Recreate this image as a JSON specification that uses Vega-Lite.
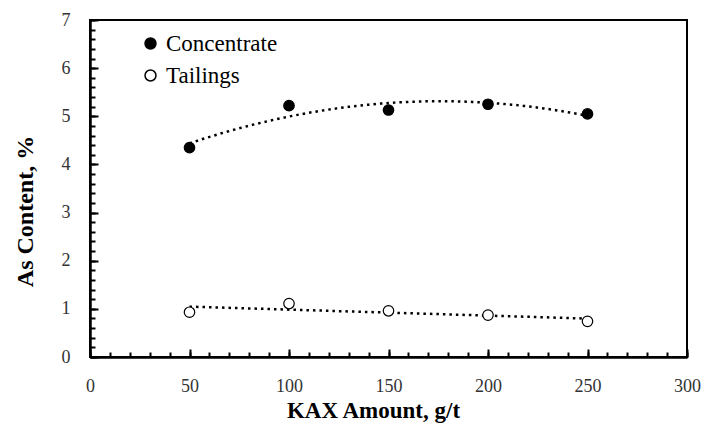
{
  "$schema": "https://vega.github.io/schema/vega-lite/v6.json",
  "width": 597,
  "height": 337,
  "autosize": {"type": "none"},
  "padding": {"left": 90, "top": 20, "right": 15, "bottom": 71},
  "background": "white",
  "config": {
    "view": {"stroke": "black", "strokeWidth": 2, "fill": "transparent"},
    "font": "Liberation Serif",
    "axis": {"labelFont": "Liberation Serif", "titleFont": "Liberation Serif"}
  },
  "data": {
    "values": [
      {"kax": 50, "value": 4.35, "series": "Concentrate"},
      {"kax": 100, "value": 5.22, "series": "Concentrate"},
      {"kax": 150, "value": 5.13, "series": "Concentrate"},
      {"kax": 200, "value": 5.25, "series": "Concentrate"},
      {"kax": 250, "value": 5.05, "series": "Concentrate"},
      {"kax": 50, "value": 0.93, "series": "Tailings"},
      {"kax": 100, "value": 1.11, "series": "Tailings"},
      {"kax": 150, "value": 0.96, "series": "Tailings"},
      {"kax": 200, "value": 0.87, "series": "Tailings"},
      {"kax": 250, "value": 0.74, "series": "Tailings"}
    ]
  },
  "layer": [
    {
      "mark": {"type": "point", "opacity": 0},
      "encoding": {
        "x": {"field": "kax", "type": "quantitative", "scale": {"domain": [0, 300], "nice": false},
          "axis": {"orient": "bottom", "zindex": 2, "values": [0,10,20,30,40,50,60,70,80,90,100,110,120,130,140,150,160,170,180,190,200,210,220,230,240,250,260,270,280,290,300],
            "labels": false, "grid": false, "title": null, "tickSize": -5, "tickWidth": 2, "tickColor": "#000000", "domainColor": "#000000", "domainWidth": 2}},
        "y": {"field": "value", "type": "quantitative", "scale": {"domain": [0, 7], "nice": false},
          "axis": {"orient": "left", "zindex": 2, "values": [0,0.2,0.4,0.6,0.8,1,1.2,1.4,1.6,1.8,2,2.2,2.4,2.6,2.8,3,3.2,3.4,3.6,3.8,4,4.2,4.4,4.6,4.8,5,5.2,5.4,5.6,5.8,6,6.2,6.4,6.6,6.8,7],
            "labels": false, "grid": false, "title": null, "tickSize": -5, "tickWidth": 2, "tickColor": "#000000", "domainColor": "#000000", "domainWidth": 2}}
      }
    },
    {
      "transform": [
        {"filter": "datum.series === 'Concentrate'"},
        {"regression": "value", "on": "kax", "method": "poly", "order": 2}
      ],
      "mark": {"type": "line", "color": "black", "strokeWidth": 2.5, "strokeDash": [2.5, 4]},
      "encoding": {
        "x": {"field": "kax", "type": "quantitative", "axis": null},
        "y": {"field": "value", "type": "quantitative", "axis": null}
      }
    },
    {
      "transform": [
        {"filter": "datum.series === 'Tailings'"},
        {"regression": "value", "on": "kax", "method": "linear"}
      ],
      "mark": {"type": "line", "color": "black", "strokeWidth": 2.5, "strokeDash": [2.5, 4]},
      "encoding": {
        "x": {"field": "kax", "type": "quantitative", "axis": null},
        "y": {"field": "value", "type": "quantitative", "axis": null}
      }
    },
    {
      "mark": {"type": "circle", "opacity": 1, "stroke": "black", "strokeWidth": 1.2, "size": 110},
      "encoding": {
        "x": {"field": "kax", "type": "quantitative",
          "axis": {"orient": "bottom", "zindex": 2, "values": [0, 50, 100, 150, 200, 250, 300], "tickSize": -8, "tickWidth": 2, "tickColor": "#000000",
            "domainColor": "#000000", "domainWidth": 2,
            "grid": false, "labelFontSize": 18, "labelColor": "#333333", "labelPadding": 28,
            "labelFlush": false, "labelOverlap": false,
            "title": "KAX Amount, g/t", "titleFontSize": 23, "titleFontWeight": "bold", "titleColor": "black",
            "titleX": 283, "titleY": 60, "titleBaseline": "alphabetic", "titleAlign": "center"}},
        "y": {"field": "value", "type": "quantitative",
          "axis": {"orient": "left", "zindex": 2, "values": [0, 1, 2, 3, 4, 5, 6, 7], "tickSize": -8, "tickWidth": 2, "tickColor": "#000000",
            "domainColor": "#000000", "domainWidth": 2,
            "grid": false, "labelFontSize": 18, "labelColor": "#333333", "labelPadding": 28,
            "labelFlush": false, "labelOverlap": false,
            "title": "As Content, %", "titleFontSize": 24, "titleFontWeight": "bold", "titleColor": "black",
            "titleX": -58, "titleY": 191, "titleBaseline": "alphabetic", "titleAlign": "center", "titleAngle": -90}},
        "fill": {"field": "series", "type": "nominal",
          "scale": {"domain": ["Concentrate", "Tailings"], "range": ["black", "white"]},
          "legend": {"title": null, "orient": "none", "legendX": 49, "legendY": 12, "padding": 0,
            "labelFontSize": 23, "labelFont": "Liberation Serif", "labelColor": "black",
            "symbolSize": 120, "symbolStrokeColor": "black", "symbolStrokeWidth": 1.5,
            "rowPadding": 8, "labelOffset": 4}}
      }
    }
  ],
  "resolve": {"axis": {"x": "independent", "y": "independent"}}
}
